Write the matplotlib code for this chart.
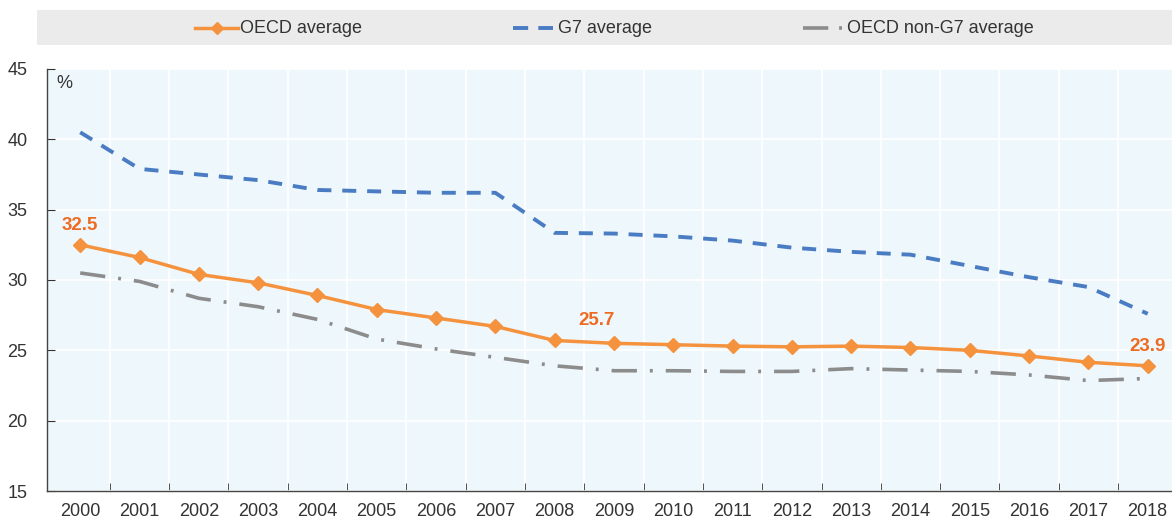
import numpy as np
import matplotlib
matplotlib.use("Agg")
import matplotlib.pyplot as plt
from matplotlib.lines import Line2D
from matplotlib.ticker import FixedLocator

plt.rcParams['font.family'] = ['Liberation Sans', 'DejaVu Sans']

# Data
years = ["2000", "2001", "2002", "2003", "2004", "2005", "2006", "2007", "2008", "2009",
         "2010", "2011", "2012", "2013", "2014", "2015", "2016", "2017", "2018"]
oecd_avg = [32.5, 31.6, 30.4, 29.8, 28.9, 27.9, 27.3, 26.7, 25.7, 25.5,
            25.4, 25.3, 25.25, 25.3, 25.2, 25.0, 24.6, 24.15, 23.9]
g7_avg = [40.5, 37.9, 37.5, 37.1, 36.4, 36.3, 36.2, 36.2, 33.35, 33.3,
          33.1, 32.8, 32.3, 32.0, 31.8, 31.0, 30.2, 29.5, 27.6]
non_g7_avg = [30.5, 29.9, 28.7, 28.1, 27.2, 25.8, 25.1, 24.5, 23.9, 23.55,
              23.55, 23.5, 23.5, 23.7, 23.6, 23.5, 23.25, 22.85, 23.0]
# which OECD points get a value label, with (dx, dy) offsets in points
labelled = {0: (0, 8), 8: (30, 8), 18: (0, 8)}

ORANGE = "#F5923E"
ORANGE_TXT = "#EE6B24"
BLUE = "#4A7CC3"
GREY = "#8C8C8C"
TXT = "#333333"

G7_DASH = (3.6, 2.8)
NONG7_DASH = (7, 3.6, 0.8, 3.6)

W, H = 1172, 521
fig = plt.figure(figsize=(W / 100, H / 100), dpi=100)

# plot area
ax = fig.add_axes([47 / W, (H - 491) / H, (W - 47) / W, (491 - 69) / H])
ax.set_facecolor("#EEF7FB")
x = np.arange(len(years))

ax.plot(x, g7_avg, color=BLUE, lw=2.8, dashes=G7_DASH, zorder=3)
ax.plot(x, non_g7_avg, color=GREY, lw=2.6, dashes=NONG7_DASH, zorder=3)
ax.plot(x, oecd_avg, color=ORANGE, lw=2.5, marker="D", markersize=7, zorder=4)

for i, (dx, dy) in labelled.items():
    ax.annotate(f"{oecd_avg[i]:.1f}", (x[i], oecd_avg[i]), xytext=(dx, dy),
                textcoords="offset points", ha="center", va="bottom",
                color=ORANGE_TXT, fontsize=13.5, fontweight="bold")

ax.set_xlim(-0.56, len(years) - 0.59)
ax.set_ylim(15, 45)
ax.set_yticks(np.arange(15, 46, 5))
ax.set_xticks(x)
ax.set_xticklabels(years)
ax.xaxis.set_minor_locator(FixedLocator(x[:-1] + 0.5))

ax.tick_params(axis="x", which="major", length=0, pad=9, labelsize=13, labelcolor=TXT)
ax.tick_params(axis="x", which="minor", direction="in", length=6, color=TXT)
ax.tick_params(axis="y", direction="in", length=6, pad=14, labelsize=13, labelcolor=TXT, color=TXT)

ax.grid(axis="y", which="major", color="white", lw=1.2)
ax.grid(axis="x", which="minor", color="white", lw=1.2)
ax.set_axisbelow(True)
for side in ["top", "right"]:
    ax.spines[side].set_visible(False)
for side in ["left", "bottom"]:
    ax.spines[side].set_color("#444444")
    ax.spines[side].set_linewidth(1.0)

ax.text(0.008, 0.985, "%", transform=ax.transAxes, ha="left", va="top",
        fontsize=13, color=TXT)

# legend band on top
lax = fig.add_axes([37 / W, (H - 45) / H, (W - 37) / W, 35 / H])
lax.set_xlim(37, W)
lax.set_ylim(0, 1)
lax.axis("off")
lax.add_patch(plt.Rectangle((37, 0), W - 37, 1, color="#EBEBEB", zorder=0))
lax.add_line(Line2D([195, 238], [0.49, 0.49], color=ORANGE, lw=2.5, zorder=2))
lax.add_line(Line2D([217], [0.49], color=ORANGE, marker="D", markersize=6, zorder=3))
lax.add_line(Line2D([513, 553], [0.49, 0.49], color=BLUE, lw=2.8, dashes=(3.9, 2.6)))
lax.add_line(Line2D([803, 846], [0.49, 0.49], color=GREY, lw=2.6, dashes=(7, 3.0, 0.8, 3.0)))
lax.text(240, 0.47, "OECD average", va="center", ha="left", fontsize=13, color=TXT)
lax.text(558, 0.47, "G7 average", va="center", ha="left", fontsize=13, color=TXT)
lax.text(847, 0.47, "OECD non-G7 average", va="center", ha="left", fontsize=13, color=TXT)

fig.savefig("out.png", dpi=100)
